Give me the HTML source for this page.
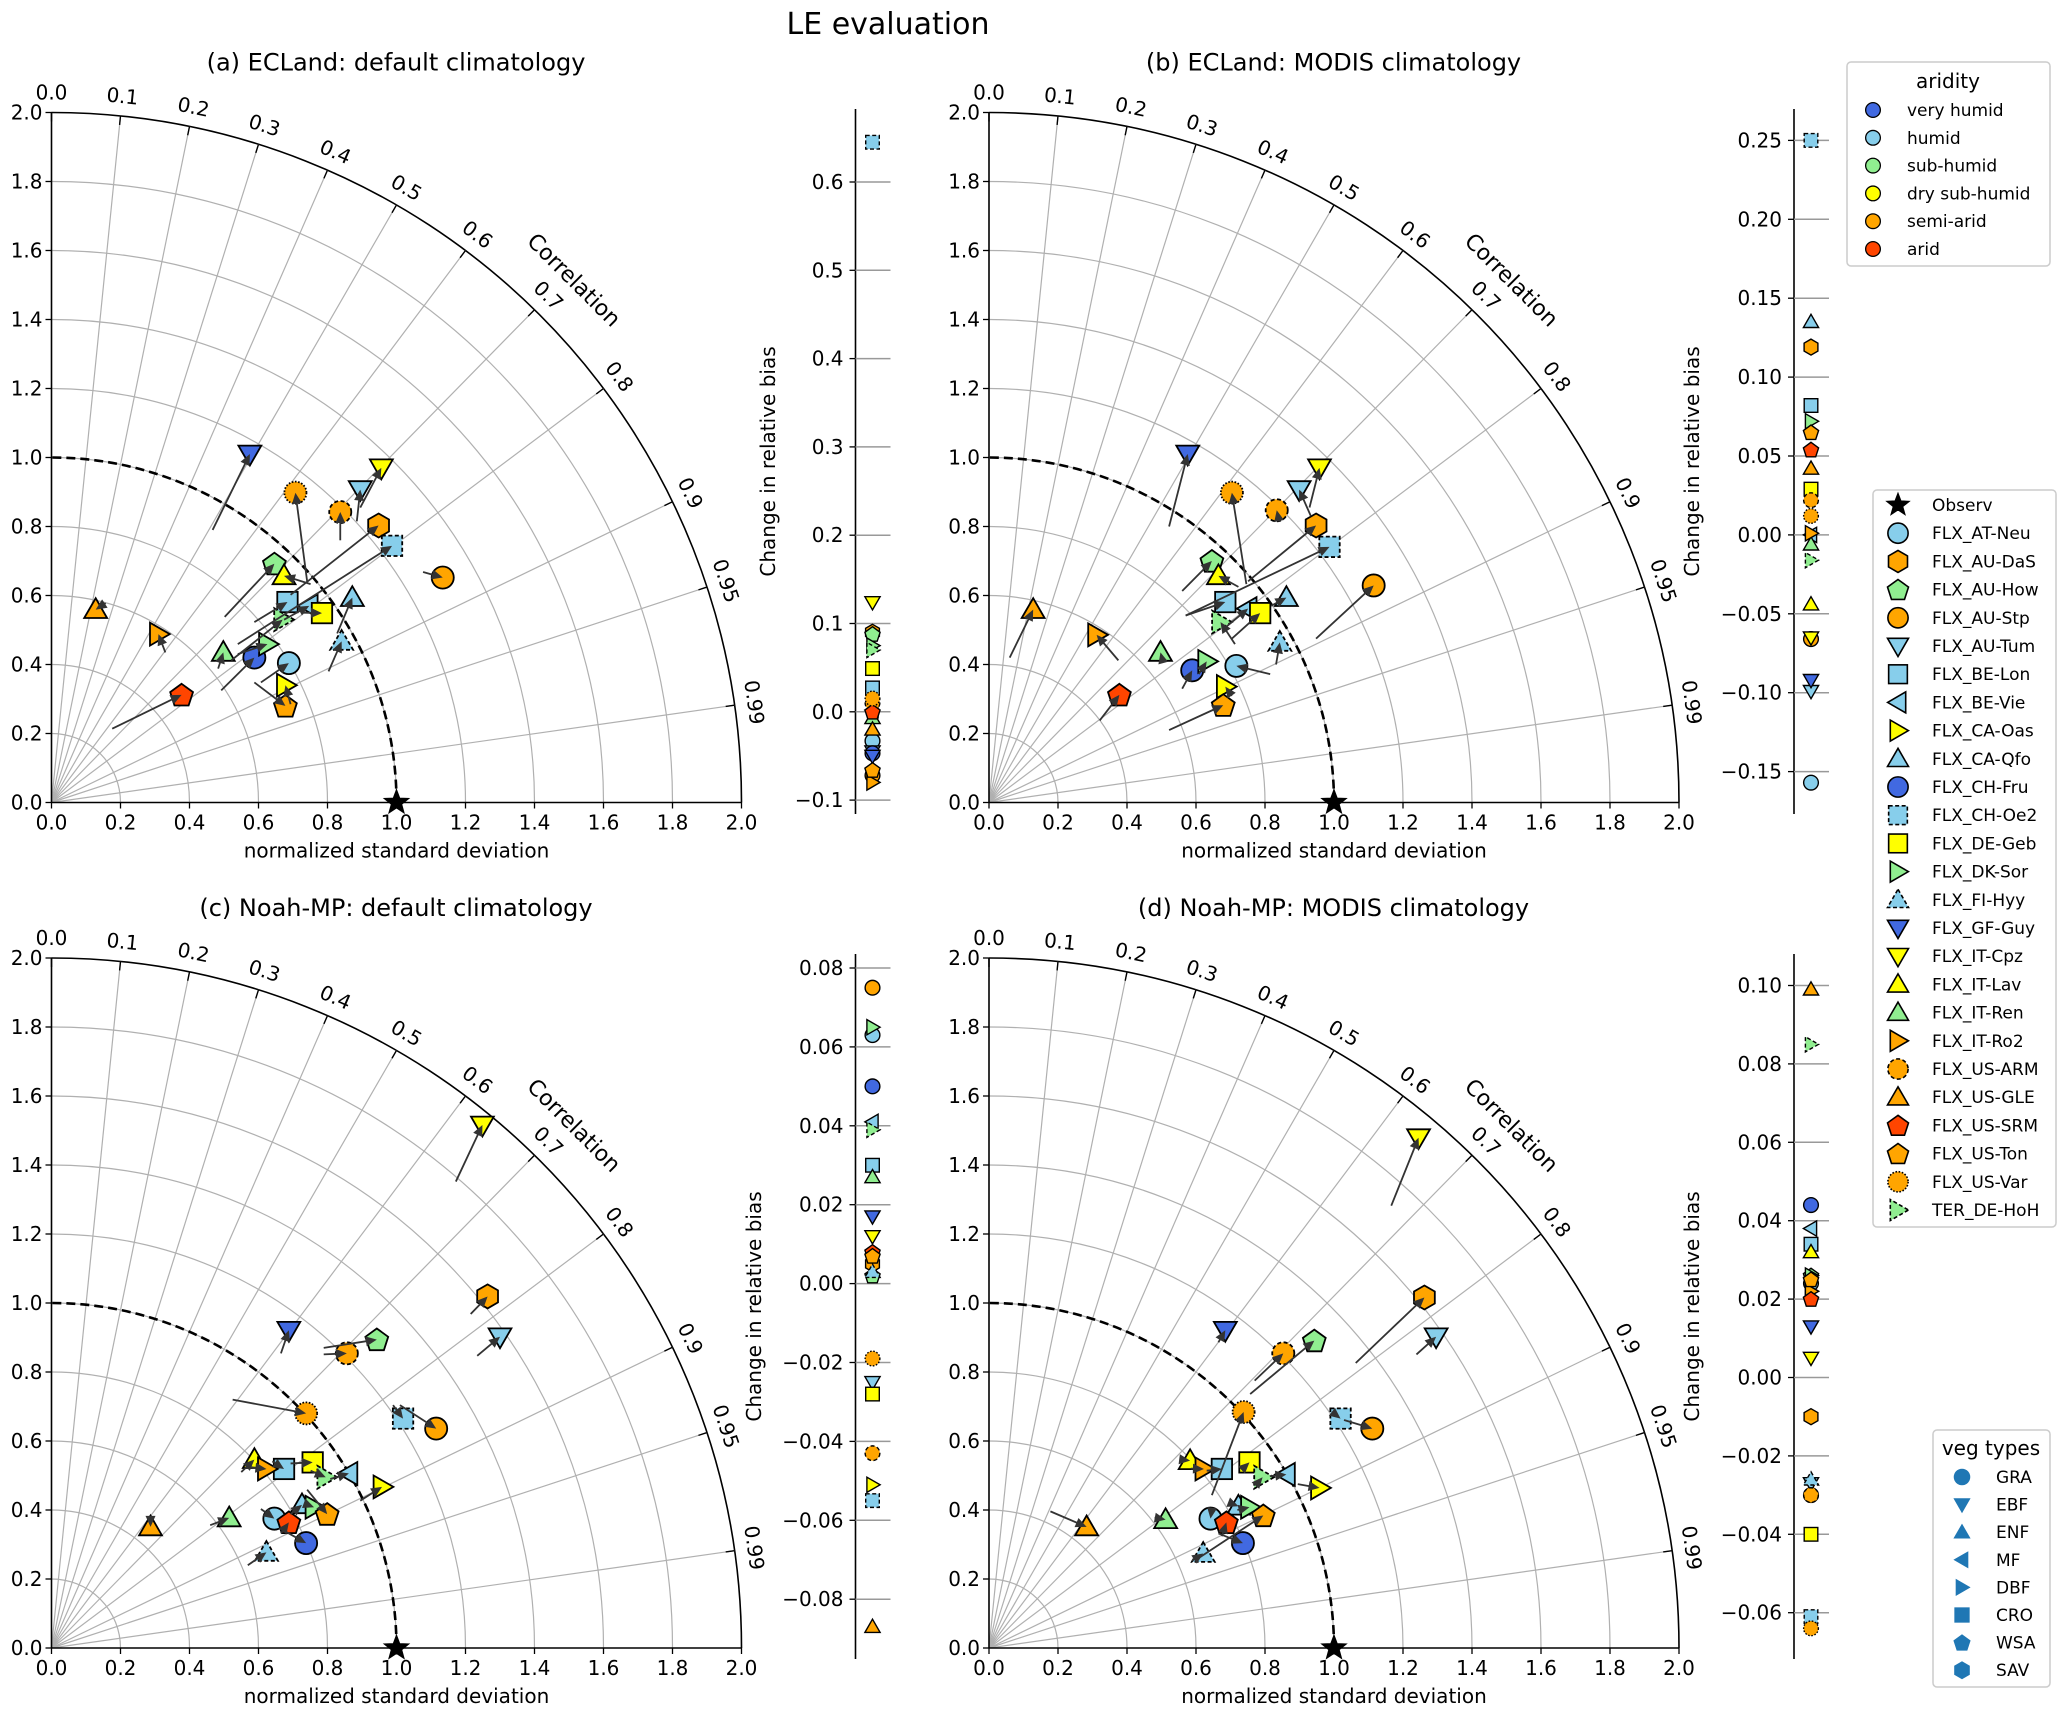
<!DOCTYPE html>
<html><head><meta charset="utf-8">
<style>
html,body{margin:0;padding:0;background:#fff;}
svg{display:block;font-family:"DejaVu Sans","Liberation Sans",sans-serif;}
</style></head>
<body>
<svg id="fig" width="2067" height="1713" viewBox="0 0 2067 1713" xmlns="http://www.w3.org/2000/svg">
<rect width="2067" height="1713" fill="#fff"/>
<text x="888" y="34" font-size="30" text-anchor="middle">LE evaluation</text>
</svg>
<script>
// ---------- data ----------
const siteNames = ["FLX_AT-Neu","FLX_AU-DaS","FLX_AU-How","FLX_AU-Stp","FLX_AU-Tum","FLX_BE-Lon","FLX_BE-Vie","FLX_CA-Oas","FLX_CA-Qfo","FLX_CH-Fru","FLX_CH-Oe2","FLX_DE-Geb","FLX_DK-Sor","FLX_FI-Hyy","FLX_GF-Guy","FLX_IT-Cpz","FLX_IT-Lav","FLX_IT-Ren","FLX_IT-Ro2","FLX_US-ARM","FLX_US-GLE","FLX_US-SRM","FLX_US-Ton","FLX_US-Var","TER_DE-HoH"];
const siteShapes = ["circle","hex","pent","circle","tdown","square","tleft","tright","tup","circle","square","square","tright","tup","tdown","tdown","tup","tup","tright","circle","tup","pent","pent","circle","tright"];
const siteColors = ["#87ceeb","#ffa500","#90ee90","#ffa500","#87ceeb","#87ceeb","#87ceeb","#ffff00","#87ceeb","#4169e1","#87ceeb","#ffff00","#90ee90","#87ceeb","#4169e1","#ffff00","#ffff00","#90ee90","#ffa500","#ffa500","#ffa500","#ff4500","#ffa500","#ffa500","#90ee90"];
const siteEdge = ["solid","solid","solid","solid","solid","solid","solid","solid","solid","solid","dashed","solid","solid","dashed","solid","solid","solid","solid","solid","dashed","solid","solid","solid","dotted","dashed"];

// panel (a) ECLand default: normalized std components (x = std*corr, y = std*sin)
const aEndX = [0.688,0.948,0.646,1.134,0.895,0.684,0.747,0.678,0.872,0.588,0.987,0.784,0.626,0.841,0.575,0.956,0.674,0.498,0.310,0.837,0.128,0.377,0.678,0.707,0.670];
const aEndY = [0.404,0.803,0.692,0.652,0.907,0.581,0.570,0.340,0.594,0.420,0.744,0.549,0.459,0.467,1.010,0.970,0.657,0.435,0.488,0.842,0.559,0.312,0.280,0.898,0.530];
const aTailX = [0.607,0.693,0.502,1.077,0.885,0.588,0.674,0.693,0.828,0.492,0.540,0.730,0.540,0.803,0.467,0.895,0.751,0.483,0.330,0.837,0.157,0.176,0.588,0.741,0.521];
const aTailY = [0.348,0.602,0.538,0.668,0.815,0.523,0.530,0.285,0.490,0.325,0.459,0.550,0.430,0.380,0.790,0.855,0.633,0.388,0.435,0.760,0.578,0.214,0.348,0.641,0.412];
const aBias = [-0.033,0.090,0.088,-0.072,-0.045,0.027,0.002,null,null,-0.047,0.645,0.049,0.075,null,-0.050,0.124,null,-0.007,-0.080,0.010,-0.020,0.000,-0.066,0.015,0.070];

// panel (b) ECLand MODIS
const bEndX = [0.717,0.948,0.646,1.115,0.899,0.685,0.751,0.685,0.862,0.589,0.987,0.786,0.631,0.843,0.576,0.958,0.665,0.497,0.312,0.834,0.128,0.378,0.679,0.704,0.671];
const bEndY = [0.396,0.803,0.700,0.629,0.907,0.581,0.562,0.336,0.594,0.383,0.741,0.549,0.409,0.464,1.010,0.970,0.657,0.435,0.486,0.847,0.559,0.312,0.282,0.898,0.523];
const bTailX = [0.815,0.751,0.560,0.948,0.933,0.570,0.685,0.704,0.818,0.560,0.570,0.704,0.608,0.832,0.522,0.929,0.723,0.503,0.375,0.841,0.060,0.321,0.522,0.746,0.713];
const bTailY = [0.372,0.641,0.613,0.475,0.830,0.542,0.507,0.309,0.570,0.330,0.542,0.475,0.372,0.400,0.800,0.855,0.625,0.412,0.412,0.815,0.420,0.238,0.210,0.633,0.459];
const bBias = [-0.157,0.119,null,-0.066,-0.099,0.082,0.000,null,0.135,null,0.250,0.029,0.072,null,-0.092,-0.065,-0.044,-0.006,0.001,0.022,0.042,0.054,0.065,0.012,-0.016];

// panel (c) Noah-MP default
const cEndX = [0.646,1.264,0.943,1.115,1.300,0.674,0.862,0.958,0.726,0.738,1.019,0.757,0.761,0.623,0.688,1.249,0.588,0.515,0.623,0.856,0.287,0.688,0.799,0.738,0.795];
const cEndY = [0.375,1.019,0.894,0.636,0.902,0.519,0.506,0.467,0.415,0.304,0.665,0.538,0.408,0.277,0.921,1.516,0.546,0.377,0.519,0.854,0.351,0.364,0.388,0.680,0.495];
const cTailX = [0.607,1.215,0.789,1.010,1.234,0.640,0.808,0.895,0.693,0.674,0.990,0.693,0.732,0.569,0.665,1.172,0.550,0.460,0.569,0.789,0.287,0.665,0.741,0.525,0.751];
const cTailY = [0.403,0.968,0.870,0.704,0.847,0.541,0.490,0.427,0.388,0.340,0.704,0.535,0.419,0.240,0.854,1.352,0.510,0.356,0.525,0.851,0.380,0.332,0.459,0.720,0.514];
const cBias = [0.063,0.005,0.002,0.075,-0.025,0.030,0.041,-0.051,null,0.050,-0.055,-0.028,0.065,0.003,0.017,0.012,null,0.027,null,-0.043,-0.087,0.008,0.007,-0.019,0.039];

// panel (d) Noah-MP MODIS
const dEndX = [0.642,1.262,0.943,1.111,1.296,0.675,0.862,0.958,0.723,0.736,1.019,0.755,0.755,0.621,0.685,1.245,0.583,0.512,0.623,0.853,0.283,0.688,0.795,0.738,0.793];
const dEndY = [0.375,1.016,0.891,0.636,0.902,0.519,0.503,0.464,0.411,0.304,0.665,0.538,0.408,0.274,0.921,1.479,0.543,0.372,0.519,0.854,0.351,0.364,0.384,0.684,0.495];
const dTailX = [0.646,1.063,0.757,1.029,1.239,0.631,0.814,0.895,0.700,0.665,1.000,0.738,0.720,0.589,0.665,1.166,0.560,0.480,0.585,0.770,0.178,0.675,0.608,0.646,0.776];
const dTailY = [0.403,0.826,0.736,0.661,0.851,0.514,0.498,0.475,0.420,0.332,0.680,0.522,0.400,0.253,0.886,1.282,0.546,0.378,0.520,0.775,0.396,0.324,0.261,0.443,0.475];
const dBias = [0.024,-0.010,0.026,-0.030,-0.027,0.034,0.038,0.022,null,0.044,-0.061,-0.040,0.026,-0.026,0.013,0.005,0.032,null,0.022,-0.030,0.099,0.020,0.025,-0.064,0.085];

const stdTicks = [0.0,0.2,0.4,0.6,0.8,1.0,1.2,1.4,1.6,1.8,2.0];
const corrTicks = [0.0,0.1,0.2,0.3,0.4,0.5,0.6,0.7,0.8,0.9,0.95,0.99];
const aBiasTicks = [-0.1,0.0,0.1,0.2,0.3,0.4,0.5,0.6];
const bBiasTicks = [-0.15,-0.10,-0.05,0.00,0.05,0.10,0.15,0.20,0.25];
const cBiasTicks = [-0.08,-0.06,-0.04,-0.02,0.00,0.02,0.04,0.06,0.08];
const dBiasTicks = [-0.06,-0.04,-0.02,0.00,0.02,0.04,0.06,0.08,0.10];
const aridityLabels = ["very humid","humid","sub-humid","dry sub-humid","semi-arid","arid"];
const aridityColors = ["#4169e1","#87ceeb","#90ee90","#ffff00","#ffa500","#ff4500"];
const vegLabels = ["GRA","EBF","ENF","MF","DBF","CRO","WSA","SAV"];
const vegShapes = ["circle","tdown","tup","tleft","tright","square","pent","hex"];

// ---------- drawing ----------
const NS = "http://www.w3.org/2000/svg";
const svg = document.getElementById('fig');
function mk(tag, attrs, parent){
  const e = document.createElementNS(NS, tag);
  for (const k in attrs) e.setAttribute(k, attrs[k]);
  (parent||svg).appendChild(e);
  return e;
}
function polyPts(cx, cy, r, n, start){
  const p=[];
  for(let k=0;k<n;k++){const a=(start+k*360/n)*Math.PI/180;p.push((cx+r*Math.cos(a)).toFixed(1)+","+(cy+r*Math.sin(a)).toFixed(1));}
  return p.join(" ");
}
function drawShape(parent, shape, cx, cy, r, fill, edge, stroke, sw){
  let e;
  const st = {fill:fill, stroke:stroke, 'stroke-width':sw};
  if(edge==="dashed") st['stroke-dasharray']="4,2.5";
  if(edge==="dotted") st['stroke-dasharray']="1.6,1.6";
  if(shape==="circle"){ e = mk('circle', Object.assign({cx:cx,cy:cy,r:r*0.92}, st), parent); }
  else if(shape==="square"){ const s=r*0.85; e = mk('rect', Object.assign({x:cx-s,y:cy-s,width:2*s,height:2*s}, st), parent); }
  else if(shape==="tup"){ e = mk('polygon', Object.assign({points:polyPts(cx,cy+r*0.15,r*1.1,3,-90)}, st), parent); }
  else if(shape==="tdown"){ e = mk('polygon', Object.assign({points:polyPts(cx,cy-r*0.15,r*1.1,3,90)}, st), parent); }
  else if(shape==="tleft"){ e = mk('polygon', Object.assign({points:polyPts(cx+r*0.15,cy,r*1.1,3,180)}, st), parent); }
  else if(shape==="tright"){ e = mk('polygon', Object.assign({points:polyPts(cx-r*0.15,cy,r*1.1,3,0)}, st), parent); }
  else if(shape==="pent"){ e = mk('polygon', Object.assign({points:polyPts(cx,cy+r*0.08,r,5,-90)}, st), parent); }
  else if(shape==="hex"){ e = mk('polygon', Object.assign({points:polyPts(cx,cy,r,6,-90)}, st), parent); }
  else if(shape==="star"){
    const p=[];for(let k=0;k<10;k++){const rr=k%2?r*0.42:r;const a=(-90+k*36)*Math.PI/180;p.push((cx+rr*Math.cos(a)).toFixed(1)+","+(cy+rr*Math.sin(a)).toFixed(1));}
    e = mk('polygon', Object.assign({points:p.join(" ")}, st), parent);
  }
  return e;
}

const U = 345; // px per unit normalized std
const panels = [
 {key:"a", title:"(a) ECLand: default climatology", ox:51.5, oy:802.5, endX:aEndX, endY:aEndY, tailX:aTailX, tailY:aTailY, bias:aBias, bTicks:aBiasTicks, bTop:0.6, bTopY:182, bStep:0.1, bStepPx:88.3, axX:855.5, axTop:109, axBot:814, dec:1, labX:768},
 {key:"b", title:"(b) ECLand: MODIS climatology", ox:989, oy:802.5, endX:bEndX, endY:bEndY, tailX:bTailX, tailY:bTailY, bias:bBias, bTicks:bBiasTicks, bTop:0.25, bTopY:140.4, bStep:0.05, bStepPx:78.9, axX:1794, axTop:109, axBot:814, dec:2, labX:1692},
 {key:"c", title:"(c) Noah-MP: default climatology", ox:51.5, oy:1648, endX:cEndX, endY:cEndY, tailX:cTailX, tailY:cTailY, bias:cBias, bTicks:cBiasTicks, bTop:0.08, bTopY:968, bStep:0.02, bStepPx:78.9, axX:855.5, axTop:954, axBot:1659, dec:2, labX:754},
 {key:"d", title:"(d) Noah-MP: MODIS climatology", ox:989, oy:1648, endX:dEndX, endY:dEndY, tailX:dTailX, tailY:dTailY, bias:dBias, bTicks:dBiasTicks, bTop:0.10, bTopY:985.5, bStep:0.02, bStepPx:78.4, axX:1794, axTop:954, axBot:1659, dec:2, labX:1692}
];

panels.forEach(P=>{
  const g = mk('g', {});
  
  
  const sx = v => P.ox + v*U;
  const sy = v => P.oy - v*U;
  // title
  const t = mk('text', {x:P.ox+344.5, y:P.oy-732, 'font-size':24, 'text-anchor':'middle'}, g);
  t.textContent = P.title;
  
  
  // grid arcs
  stdTicks.forEach(s=>{
    if(s<=0) return;
    const r=s*U;
    const arc = mk('path', {d:`M ${P.ox+r} ${P.oy} A ${r} ${r} 0 0 0 ${P.ox} ${P.oy-r}`, fill:'none', stroke: s===2.0?'#000':'#b0b0b0', 'stroke-width': s===2.0?1.6:1.2}, g);
    
    
  });
  // radial corr lines + labels
  corrTicks.forEach(c=>{
    const th = Math.acos(c);
    const R = 2*U;
    if(c>0){
      const ln = mk('line', {x1:P.ox, y1:P.oy, x2:P.ox+R*Math.cos(th), y2:P.oy-R*Math.sin(th), stroke:'#b0b0b0', 'stroke-width':1.2}, g);
      
      
    }
    const tk = mk('line', {x1:P.ox+(R-9)*Math.cos(th), y1:P.oy-(R-9)*Math.sin(th), x2:P.ox+R*Math.cos(th), y2:P.oy-R*Math.sin(th), stroke:'#000', 'stroke-width':1.4}, g);
    
    
    const rl = R + 20;
    const lx = P.ox + rl*Math.cos(th), ly = P.oy - rl*Math.sin(th);
    const rot = 90 - th*180/Math.PI;
    const lb = mk('text', {x:lx, y:ly, 'font-size':20, 'text-anchor':'middle', 'dominant-baseline':'central', transform:`rotate(${rot.toFixed(1)} ${lx.toFixed(1)} ${ly.toFixed(1)})`}, g);
    lb.textContent = String(c===0?'0.0':c);
    
    
  });
  // correlation title
  const rc = 738, cx = P.ox + rc*Math.cos(Math.PI/4), cy = P.oy - rc*Math.sin(Math.PI/4);
  const ct = mk('text', {x:cx, y:cy, 'font-size':22, 'text-anchor':'middle', 'dominant-baseline':'central', transform:`rotate(45 ${cx} ${cy})`}, g);
  ct.textContent = 'Correlation';
  
  
  // ref arc (std=1) dashed
  const ra = mk('path', {d:`M ${sx(1)} ${P.oy} A ${U} ${U} 0 0 0 ${P.ox} ${sy(1)}`, fill:'none', stroke:'#000', 'stroke-width':2.6, 'stroke-dasharray':'9,5'}, g);
  
  
  // axes
  const ax1 = mk('line', {x1:P.ox, y1:P.oy, x2:P.ox, y2:sy(2), stroke:'#000','stroke-width':1.6}, g);
  
  
  const ax2 = mk('line', {x1:P.ox, y1:P.oy, x2:sx(2), y2:P.oy, stroke:'#000','stroke-width':1.6}, g);
  
  
  stdTicks.forEach(s=>{
    const tx = mk('line', {x1:sx(s), y1:P.oy, x2:sx(s), y2:P.oy+6, stroke:'#000','stroke-width':1.3}, g);
    
    
    const lx = mk('text', {x:sx(s), y:P.oy+27, 'font-size':20, 'text-anchor':'middle'}, g);
    lx.textContent = s.toFixed(1);
    
    
    const ty = mk('line', {x1:P.ox-6, y1:sy(s), x2:P.ox, y2:sy(s), stroke:'#000','stroke-width':1.3}, g);
    
    
    const ly = mk('text', {x:P.ox-9, y:sy(s)+7, 'font-size':20, 'text-anchor':'end'}, g);
    ly.textContent = s.toFixed(1);
    
    
  });
  const xl = mk('text', {x:sx(1), y:P.oy+55, 'font-size':20, 'text-anchor':'middle'}, g);
  xl.textContent = 'normalized standard deviation';
  
  
  // markers
  siteNames.forEach((n,i)=>{
    const m = drawShape(g, siteShapes[i], sx(P.endX[i]), sy(P.endY[i]), 12, siteColors[i], siteEdge[i], '#000', 1.8);
    
    
  });
  // arrows
  siteNames.forEach((n,i)=>{
    const x1=sx(P.tailX[i]), y1=sy(P.tailY[i]), x2=sx(P.endX[i]), y2=sy(P.endY[i]);
    const dx=x2-x1, dy=y2-y1, L=Math.hypot(dx,dy);
    if(L<2) return;
    const ux=dx/L, uy=dy/L;
    const ag = mk('g', {}, g);
    
    
    mk('line', {x1:x1, y1:y1, x2:x2-ux*4, y2:y2-uy*4, stroke:'#333', 'stroke-width':1.8}, ag);
    const hl=11, hw=5;
    const bx=x2-ux*hl, by=y2-uy*hl;
    mk('polygon', {points:`${x2},${y2} ${bx-uy*hw},${by+ux*hw} ${bx+uy*hw},${by-ux*hw}`, fill:'#333'}, ag);
  });
  // observ star
  const obs = drawShape(g, 'star', sx(1), sy(0), 13, '#000', 'solid', '#000', 1);
  
  

  // bias axis
  const by = v => P.bTopY + (P.bTop - v)/P.bStep*P.bStepPx;
  const bg = mk('g', {});
  
  
  const bl = mk('line', {x1:P.axX, y1:P.axTop, x2:P.axX, y2:P.axBot, stroke:'#000','stroke-width':1.6}, bg);
  
  
  P.bTicks.forEach(v=>{
    const yy = by(v);
    const gl = mk('line', {x1:P.axX, y1:yy, x2:P.axX+35, y2:yy, stroke:'#999','stroke-width':1.5}, bg);
    
    
    const tk = mk('line', {x1:P.axX-6, y1:yy, x2:P.axX, y2:yy, stroke:'#000','stroke-width':1.3}, bg);
    
    
    const lb = mk('text', {x:P.axX-12, y:yy+7, 'font-size':20, 'text-anchor':'end'}, bg);
    lb.textContent = (v<0?'\u2212':'') + Math.abs(v).toFixed(P.dec);
    
    
  });
  const bxl = (P.axTop+P.axBot)/2;
  const bt = mk('text', {x:P.labX, y:bxl, 'font-size':20, 'text-anchor':'middle', 'dominant-baseline':'central', transform:`rotate(-90 ${P.labX} ${bxl})`}, bg);
  bt.textContent = 'Change in relative bias';
  
  
  siteNames.forEach((n,i)=>{
    const v = P.bias[i];
    if(v===null) return;
    const m = drawShape(bg, siteShapes[i], P.axX+17, by(v), 8, siteColors[i], siteEdge[i], '#000', 1.4);
    
    
  });
});

// ---------- legends ----------
// aridity
(function(){
  const g = mk('g', {});
  
  
  mk('rect', {x:1847, y:62, width:203, height:204, rx:4, fill:'#fff', stroke:'#ccc', 'stroke-width':1.5}, g);
  const tt = mk('text', {x:1948, y:88, 'font-size':20, 'text-anchor':'middle'}, g);
  tt.textContent = 'aridity';
  
  
  aridityLabels.forEach((l,i)=>{
    const yy = 110 + i*27.8;
    const e = mk('g', {}, g);
    
    
    drawShape(e, 'circle', 1873, yy, 8, aridityColors[i], 'solid', '#000', 1.3);
    const t = mk('text', {x:1907, y:yy+6, 'font-size':17}, e);
    t.textContent = l;
  });
})();
// sites
(function(){
  const g = mk('g', {});
  
  
  mk('rect', {x:1873, y:490, width:183, height:737, rx:4, fill:'#fff', stroke:'#ccc', 'stroke-width':1.5}, g);
  const e0 = mk('g', {}, g);
  
  
  drawShape(e0, 'star', 1898, 505, 12, '#000', 'solid', '#000', 1);
  const t0 = mk('text', {x:1932, y:511, 'font-size':17}, e0);
  t0.textContent = 'Observ';
  siteNames.forEach((n,i)=>{
    const yy = 505 + (i+1)*28.2;
    const e = mk('g', {}, g);
    
    
    drawShape(e, siteShapes[i], 1898, yy, 11, siteColors[i], siteEdge[i], '#000', 1.6);
    const t = mk('text', {x:1932, y:yy+6, 'font-size':17}, e);
    t.textContent = n;
  });
})();
// veg types
(function(){
  const g = mk('g', {});
  
  
  mk('rect', {x:1933, y:1430, width:117, height:257, rx:4, fill:'#fff', stroke:'#ccc', 'stroke-width':1.5}, g);
  const tt = mk('text', {x:1991, y:1455, 'font-size':20, 'text-anchor':'middle'}, g);
  tt.textContent = 'veg types';
  
  
  vegLabels.forEach((l,i)=>{
    const yy = 1477 + i*27.6;
    const e = mk('g', {}, g);
    
    
    drawShape(e, vegShapes[i], 1962, yy, 9, '#1f77b4', 'solid', 'none', 0);
    const t = mk('text', {x:1996, y:yy+6, 'font-size':17}, e);
    t.textContent = l;
  });
})();
</script>
</body></html>
